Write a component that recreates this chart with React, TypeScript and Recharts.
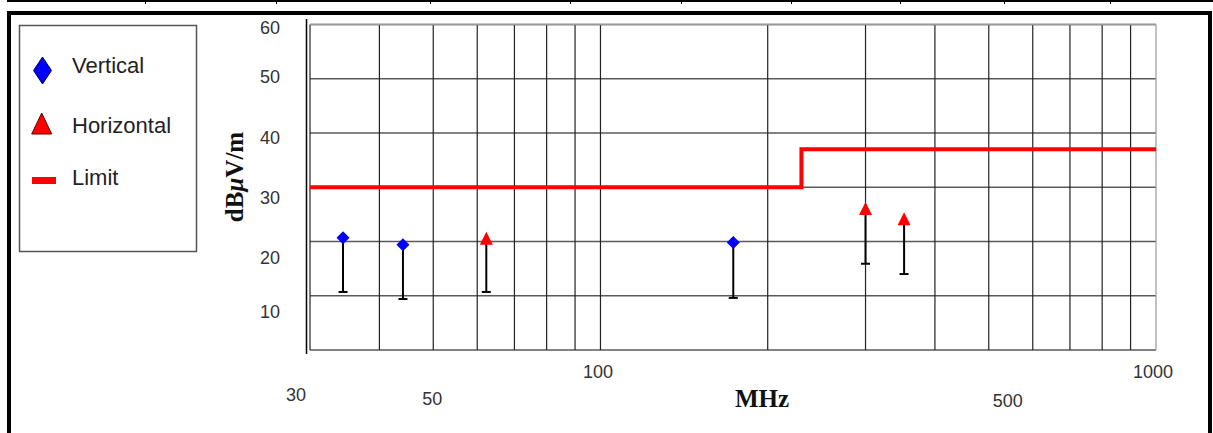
import React from 'react';
import {
    ComposedChart,
    Line,
    Scatter,
    ErrorBar,
    XAxis,
    YAxis,
    CartesianGrid,
    ReferenceLine,
} from 'recharts';

// measured points (MHz / dBuV/m), low = bottom of the stem
const verticalFreq = [34.4, 44.1, 173.4];
const verticalPeak = [20.7, 19.4, 19.8];
const verticalLow = [10.7, 9.4, 9.6];

const horizontalFreq = [62.3, 300, 352];
const horizontalPeak = [20.5, 26.0, 24.1];
const horizontalLow = [10.7, 15.9, 14.0];

// limit line, stepped at 230 MHz
const limitFreq = [30, 230, 1000];
const limitLevel = [30, 37, 37];

const xTicks = [30, 50, 100, 500, 1000];
const yTicks = [0, 10, 20, 30, 40, 50, 60];
const gridFreq = [30, 40, 50, 60, 70, 80, 90, 100, 200, 300, 400, 500, 600, 700, 800, 900, 1000];

const toRows = (freq: number[], peak: number[], low: number[]) =>
    freq.map((f, i) => ({ freq: f, level: peak[i], err: [peak[i] - low[i], 0] }));
const toCaps = (freq: number[], low: number[]) =>
    freq.map((f, i) => ({ freq: f, level: low[i] }));

const verticalRows = toRows(verticalFreq, verticalPeak, verticalLow);
const horizontalRows = toRows(horizontalFreq, horizontalPeak, horizontalLow);
const capRows = [...toCaps(verticalFreq, verticalLow), ...toCaps(horizontalFreq, horizontalLow)];
const limitRows = limitFreq.map((f, i) => ({ freq: f, level: limitLevel[i] }));

const SANS = '"Liberation Sans", Arial, sans-serif';
const SERIF = '"Liberation Serif", "Times New Roman", serif';

// label offsets copied from the (rather untidy) original layout
const xLabelShift: Record<number, [number, number]> = {
    30: [-14, 45],
    50: [-1, 49],
    100: [-2.5, 22],
    500: [19, 51],
    1000: [-3, 22],
};
const yLabelShift: Record<number, number> = { 60: 3, 50: -2, 40: 5, 30: 11, 20: 16, 10: 16 };

const XTick = (props: any) => {
    const { x, y, payload } = props;
    const [dx, dy] = xLabelShift[payload.value] || [0, 20];
    return (
        <text x={x + dx} y={y + dy} textAnchor="middle" dominantBaseline="central" fontSize={18} fontFamily={SANS} fill="#333">
            {payload.value}
        </text>
    );
};

const YTick = (props: any) => {
    const { x, y, payload } = props;
    if (payload.value === 0) return <g />;
    return (
        <text x={x} y={y + (yLabelShift[payload.value] || 0)} textAnchor="end" dominantBaseline="central" fontSize={18} fontFamily={SANS} fill="#333">
            {payload.value}
        </text>
    );
};

const Diamond = (props: any) => {
    const { cx, cy } = props;
    const r = 6.5;
    return <polygon points={`${cx},${cy - r} ${cx + r},${cy} ${cx},${cy + r} ${cx - r},${cy}`} fill="#0000ff" />;
};

const Triangle = (props: any) => {
    const { cx, cy } = props;
    return <polygon points={`${cx},${cy - 7} ${cx + 6.5},${cy + 6} ${cx - 6.5},${cy + 6}`} fill="#ff0000" />;
};

const Cap = (props: any) => {
    const { cx, cy } = props;
    return <line x1={cx - 4.5} x2={cx + 4.5} y1={cy} y2={cy} stroke="#000" strokeWidth={2} />;
};

const stubs = [145, 276, 430, 570, 681, 791, 900, 1004, 1110];

export default function App() {
    return (
        <div style={{ position: 'absolute', left: 0, top: 0, width: 1213, height: 433, background: '#fff', overflow: 'hidden' }}>
            {/* table edge above the frame */}
            <div style={{ position: 'absolute', left: 7, top: 0, width: 1206, height: 2, background: '#000' }} />
            {stubs.map((x) => (
                <div key={x} style={{ position: 'absolute', left: x, top: 0, width: 1, height: 4, background: '#000' }} />
            ))}
            {/* outer frame */}
            <div style={{ position: 'absolute', left: 7, top: 11, width: 1197, height: 440, border: '4px solid #000' }} />

            <div style={{ position: 'absolute', left: 0, top: 0 }}>
                <ComposedChart width={1213} height={433} margin={{ top: 24.5, right: 57, bottom: 53, left: 250 }}>
                    <CartesianGrid vertical={false} stroke="#5a5a5a" strokeWidth={1.4} />
                    {gridFreq.map((f) => (
                        <ReferenceLine key={f} x={f} stroke={f === 1000 ? '#999' : '#222'} strokeWidth={1.2} />
                    ))}
                    <ReferenceLine y={60} stroke="#999" strokeWidth={1.4} />
                    <XAxis
                        dataKey="freq"
                        type="number"
                        scale="log"
                        domain={[30, 1000]}
                        allowDataOverflow
                        ticks={xTicks}
                        interval={0}
                        tick={XTick}
                        tickSize={0}
                        tickMargin={0}
                        tickLine={false}
                        axisLine={false}
                        height={30}
                    />
                    <YAxis
                        dataKey="level"
                        type="number"
                        domain={[0, 60]}
                        ticks={yTicks}
                        interval={0}
                        tick={YTick}
                        tickSize={0}
                        tickMargin={30}
                        tickLine={false}
                        axisLine={false}
                        width={60}
                    />
                    <Line
                        data={limitRows}
                        dataKey="level"
                        type="stepAfter"
                        stroke="#ff0000"
                        strokeWidth={4}
                        dot={false}
                        isAnimationActive={false}
                    />
                    <Scatter data={capRows} shape={Cap} isAnimationActive={false} />
                    <Scatter data={verticalRows} shape={Diamond} isAnimationActive={false}>
                        <ErrorBar dataKey="err" direction="y" width={0} stroke="#000" strokeWidth={2} />
                    </Scatter>
                    <Scatter data={horizontalRows} shape={Triangle} isAnimationActive={false}>
                        <ErrorBar dataKey="err" direction="y" width={0} stroke="#000" strokeWidth={2} />
                    </Scatter>
                </ComposedChart>
            </div>

            <svg width={1213} height={433} style={{ position: 'absolute', left: 0, top: 0, pointerEvents: 'none' }}>
                {/* y axis rule sits a little left of the plot */}
                <line x1={306.5} x2={306.5} y1={19} y2={354} stroke="#000" strokeWidth={1.5} />

                {/* legend */}
                <rect x={19.5} y={25.5} width={177} height={226} fill="#fff" stroke="#555" strokeWidth={1.5} />
                <polygon points="42.5,57 51.5,70.5 42.5,84 33.5,70.5" fill="#0000ff" stroke="#000066" strokeWidth={1} />
                <text x={72} y={73} fontSize={22} fontFamily={SANS} fill="#222">Vertical</text>
                <polygon points="41.7,113 51.7,134 31.7,134" fill="#ff0000" stroke="#660000" strokeWidth={1} />
                <text x={72} y={132.5} fontSize={22} fontFamily={SANS} fill="#222">Horizontal</text>
                <rect x={32} y={177} width={24} height={7} fill="#ff0000" />
                <text x={72} y={185} fontSize={22} fontFamily={SANS} fill="#222">Limit</text>

                {/* axis titles */}
                <text transform="translate(243,177) rotate(-90)" textAnchor="middle" fontSize={25} fontWeight="bold" fontFamily={SERIF} fill="#111">
                    dB<tspan fontStyle="italic">μ</tspan>V/m
                </text>
                <text x={762} y={407} textAnchor="middle" fontSize={25} fontWeight="bold" fontFamily={SERIF} fill="#111">
                    MHz
                </text>
            </svg>
        </div>
    );
}
